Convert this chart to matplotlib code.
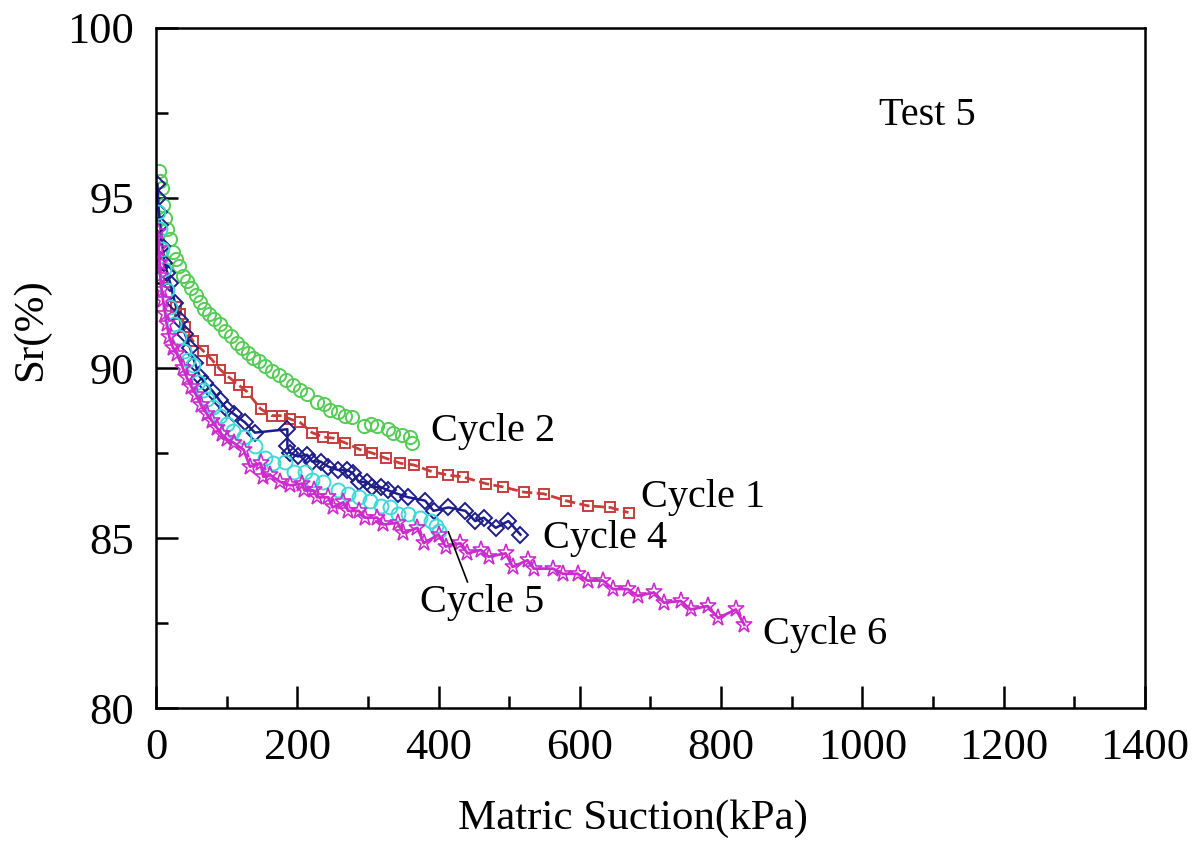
import numpy as np
import matplotlib.pyplot as plt
from matplotlib.ticker import MultipleLocator

# Data (Test 5, drying curves)
c1_x = [28, 34, 41, 52, 67, 79, 91, 105, 117, 129, 148, 164, 179, 190, 204, 221, 237, 251, 268,
        289, 306, 325, 346, 365, 391, 414, 434, 467, 492, 521, 549, 580, 611, 643, 669]
c1_y = [91.8, 91.6, 91.2, 90.8, 90.5, 90.25, 89.95, 89.7, 89.5, 89.3, 88.8, 88.6, 88.6, 88.5, 88.4,
        88.1, 87.97, 87.94, 87.8, 87.6, 87.5, 87.35, 87.2, 87.15, 86.95, 86.85, 86.8, 86.6, 86.5,
        86.35, 86.3, 86.1, 85.95, 85.9, 85.75]

c2_x = [4, 6, 8, 10, 13, 16, 20, 24, 28, 32, 38, 44, 50, 56, 62, 68, 75, 82, 90, 98, 106, 114,
        122, 130, 138, 146, 155, 164, 174, 184, 194, 204, 214, 228, 238, 247, 258, 268, 278, 294,
        304, 313, 328, 336, 349, 360, 363]
c2_y = [95.8, 95.5, 95.3, 94.8, 94.4, 94.1, 93.8, 93.4, 93.2, 93.0, 92.7, 92.55, 92.35, 92.15,
        91.95, 91.75, 91.6, 91.45, 91.3, 91.1, 90.95, 90.75, 90.6, 90.45, 90.3, 90.2, 90.05, 89.9,
        89.8, 89.65, 89.5, 89.35, 89.25, 89.0, 88.95, 88.76, 88.7, 88.6, 88.56, 88.3, 88.35,
        88.3, 88.2, 88.1, 88.03, 87.97, 87.8]

c4_x = [2, 3, 4, 6, 9, 12, 16, 20, 27, 34, 41, 48, 55, 62, 70, 81, 90, 100, 110, 126, 140, 186,
        186, 190, 201, 214, 221, 233, 244, 258, 271, 279, 287, 299, 306, 318, 329, 342, 357, 381,
        393, 414, 438, 452, 464, 481, 499, 516]
c4_y = [95.4, 95.0, 94.6, 94.2, 93.6, 93.1, 92.8, 92.5, 91.9, 91.4, 91.0, 90.6, 90.15, 89.75,
        89.55, 89.3, 89.05, 88.8, 88.65, 88.4, 88.1, 88.2, 87.7, 87.5, 87.4, 87.45, 87.25, 87.25,
        87.1, 87.0, 87.0, 86.9, 86.65, 86.65, 86.5, 86.5, 86.4, 86.3, 86.2, 86.1, 85.8, 85.9,
        85.8, 85.5, 85.6, 85.3, 85.5, 85.1]

c5_x = [3, 5, 8, 11, 15, 20, 26, 32, 39, 46, 52, 60, 66, 72, 81, 91, 100, 109, 124, 140, 155, 166,
        183, 195, 211, 221, 237, 257, 272, 287, 303, 318, 332, 342, 357, 374, 389, 396, 400]
c5_y = [94.6, 94.1, 93.5, 92.9, 92.3, 91.8, 91.3, 90.9, 90.5, 90.25, 90.1, 89.6, 89.35, 89.1,
        88.85, 88.6, 88.35, 88.15, 87.97, 87.7, 87.35, 87.2, 87.25, 86.95, 86.95, 86.7, 86.65,
        86.4, 86.3, 86.2, 86.1, 85.95, 85.9, 85.7, 85.7, 85.6, 85.5, 85.35, 85.2]

c6_x = [3, 4, 5, 6, 8, 10, 13, 15, 19, 24, 30, 38, 44, 50, 57, 64, 72, 79, 86, 93, 101, 110, 124,
        133, 148, 152, 162, 176, 190, 207, 210, 223, 228, 244, 250, 265, 272, 287, 296, 313, 322,
        342, 350, 370, 379, 400, 410, 431, 441, 460, 471, 495, 505, 526, 535, 562, 576, 597, 611,
        633, 647, 668, 682, 705, 719, 743, 757, 781, 796, 821, 833]
c6_y = [94.0, 93.5, 93.1, 92.7, 92.3, 92.0, 91.6, 91.3, 90.9, 90.6, 90.4, 90.0, 89.7, 89.45,
        89.2, 88.9, 88.65, 88.45, 88.25, 88.05, 87.9, 87.8, 87.6, 87.1, 87.2, 86.8, 86.85, 86.65,
        86.55, 86.6, 86.4, 86.4, 86.2, 86.2, 85.9, 86.05, 85.8, 85.8, 85.6, 85.6, 85.4, 85.45,
        85.15, 85.3, 84.85, 85.1, 84.75, 84.85, 84.55, 84.65, 84.45, 84.55, 84.15, 84.35, 84.1,
        84.1, 83.95, 83.95, 83.75, 83.75, 83.5, 83.5, 83.3, 83.4, 83.1, 83.15, 82.9, 83.0, 82.65,
        82.9, 82.45]

plt.rcParams['font.family'] = ['Liberation Serif', 'DejaVu Serif']

fig = plt.figure(figsize=(12, 8.47), dpi=100)
ax = fig.add_axes([0.13, 0.164, 0.824, 0.803])

ax.plot(c2_x, c2_y, color='#55cc55', ls='none', marker='o', ms=9.5, mfc='none', mew=1.4)
ax.plot(c1_x, c1_y, color='#c83c3c', lw=2, ls='--', marker='s', ms=7.5, mfc='none', mew=1.4)
ax.plot(c4_x, c4_y, color='#1c1c8a', lw=1.8, marker='D', ms=8.5, mfc='none', mew=1.4)
ax.plot(c5_x, c5_y, color='#3fd8d8', ls='none', marker='o', ms=10, mfc='none', mew=1.4)
ax.plot(c6_x, c6_y, color='#cc2ccc', lw=2, marker='*', ms=12.5, mfc='none', mew=1.2)

ax.set_xlim(0, 1400)
ax.set_ylim(80, 100)
ax.xaxis.set_major_locator(MultipleLocator(200))
ax.xaxis.set_minor_locator(MultipleLocator(100))
ax.yaxis.set_major_locator(MultipleLocator(5))
ax.yaxis.set_minor_locator(MultipleLocator(2.5))
ax.tick_params(which='both', direction='in', width=1.8, labelsize=32, top=False, right=False)
ax.tick_params(which='major', length=16, pad=16)
ax.tick_params(axis='x', which='major', pad=14)
ax.tick_params(which='minor', length=8.5)
for s in ax.spines.values():
    s.set_linewidth(1.8)

ax.set_xlabel('Matric Suction(kPa)', fontsize=31)
ax.set_ylabel('Sr(%)', fontsize=31)
ax.xaxis.set_label_coords(0.482, -0.135)
ax.yaxis.set_label_coords(-0.107, 0.557)

fs = 29
ax.text(1024, 97.44, 'Test 5', fontsize=fs, ha='left', va='center')
ax.text(389, 88.12, 'Cycle 2', fontsize=fs, ha='left', va='center')
ax.text(686, 86.2, 'Cycle 1', fontsize=fs, ha='left', va='center')
ax.text(548, 85.0, 'Cycle 4', fontsize=fs, ha='left', va='center')
ax.text(374, 83.1, 'Cycle 5', fontsize=fs, ha='left', va='center')
ax.text(860, 82.15, 'Cycle 6', fontsize=fs, ha='left', va='center')
ax.plot([414, 441], [85.18, 83.71], color='black', lw=1.2)

fig.savefig('out.png', dpi=100)
